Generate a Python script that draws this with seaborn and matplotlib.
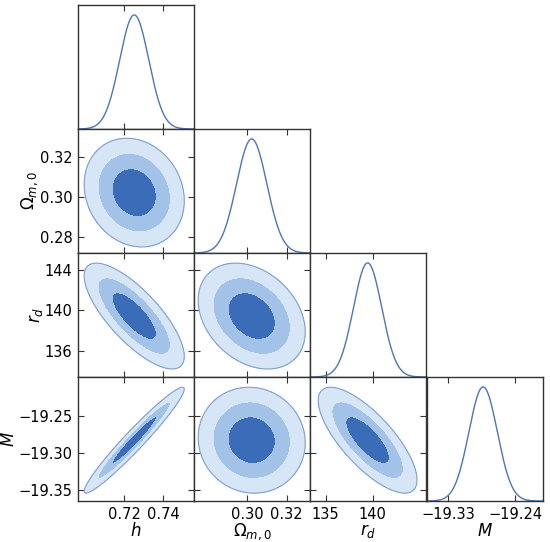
import numpy as np
import matplotlib
matplotlib.use("Agg")
import matplotlib.pyplot as plt
import seaborn as sns

# ---- data ----
param_labels = [r"$h$", r"$\Omega_{m,0}$", r"$r_d$", r"$M$"]
means = [0.7252, 0.3022, 139.45, -19.283]
sd_2d = [0.0074, 0.0079, 1.52, 0.0207]      # widths of 2D contours
sd_1d = [0.0074, 0.0077, 1.50, 0.0190]      # widths of 1D marginals
corr = [
    [1.00, -0.15, -0.76, 0.965],
    [-0.15, 1.00, -0.30, -0.05],
    [-0.76, -0.30, 1.00, -0.75],
    [0.965, -0.05, -0.75, 1.00],
]
conf_levels = [0.6827, 0.9545, 0.9973]

x_ticks = [[0.72, 0.74], [0.30, 0.32], [135, 140], [-19.33, -19.24]]
x_ticklabels = [["0.72", "0.74"], ["0.30", "0.32"], ["135", "140"], ["\u221219.33", "\u221219.24"]]
y_ticks = [None, [0.28, 0.30, 0.32], [136, 140, 144], [-19.35, -19.30, -19.25]]
y_ticklabels = [None, ["0.28", "0.30", "0.32"], ["136", "140", "144"],
                ["\u221219.35", "\u221219.30", "\u221219.25"]]

# ---- layout / style ----
x_lims = [(0.6966, 0.7556), (0.2729, 0.3318), (133.35, 145.63), (-19.358, -19.203)]
y_lims = [None, (0.272, 0.334), (133.43, 145.68), (-19.3648, -19.198)]

sns.set_style("ticks")
plt.rcParams["font.family"] = ["DejaVu Sans"]
plt.rcParams["xtick.direction"] = "in"
plt.rcParams["ytick.direction"] = "in"
plt.rcParams["mathtext.fontset"] = "dejavusans"
plt.rcParams["text.color"] = "black"
plt.rcParams["axes.labelcolor"] = "black"
plt.rcParams["xtick.labelcolor"] = "black"
plt.rcParams["ytick.labelcolor"] = "black"

fill_colors = ["#3a6cb7", "#a2c2e8", "#d6e6f7"]  # inner -> outer
edge_color = "#7f9fd0"
line_color = "#4f74b8"
spine_color = "#333333"

W, H = 550, 542
fig = plt.figure(figsize=(W / 100, H / 100), dpi=100)

col_left = [78, 194, 310, 427]
row_top = [5, 129, 253, 377]
pw, ph = 116, 124

n = 4
for r in range(n):
    for c in range(r + 1):
        rect = [col_left[c] / W, 1 - (row_top[r] + ph) / H, pw / W, ph / H]
        ax = fig.add_axes(rect)
        for s in ax.spines.values():
            s.set_color(spine_color)
            s.set_linewidth(1.0)
        ax.set_xlim(*x_lims[c])
        ax.set_xticks(x_ticks[c])
        if r == n - 1:
            ax.set_xticklabels(x_ticklabels[c], fontsize=10.5)
            ax.set_xlabel(param_labels[c], fontsize=12, labelpad=0)
        else:
            ax.set_xticklabels([])
        ax.tick_params(axis="both", length=4, width=0.8, color=spine_color, pad=4,
                       labelcolor="black")

        if r == c:
            g = np.linspace(x_lims[c][0], x_lims[c][1], 400)
            pdf = np.exp(-0.5 * ((g - means[c]) / sd_1d[c]) ** 2)
            sns.lineplot(x=g, y=pdf, ax=ax, color=line_color, lw=1.0)
            ax.set_ylim(0, 1.087)
            ax.set_yticks([])
            ax.tick_params(axis="x", top=True, bottom=True)
        else:
            ax.set_ylim(*y_lims[r])
            ax.set_yticks(y_ticks[r])
            if c == 0:
                ax.set_yticklabels(y_ticklabels[r], fontsize=10.5)
                ax.set_ylabel(param_labels[r], fontsize=12, labelpad=0)
            else:
                ax.set_yticklabels([])
            ax.tick_params(axis="both", top=True, right=True)
            gx = np.linspace(x_lims[c][0], x_lims[c][1], 300)
            gy = np.linspace(y_lims[r][0], y_lims[r][1], 300)
            X, Y = np.meshgrid(gx, gy)
            u = (X - means[c]) / sd_2d[c]
            v = (Y - means[r]) / sd_2d[r]
            rho = corr[r][c]
            d2 = (u ** 2 - 2 * rho * u * v + v ** 2) / (1 - rho ** 2)
            lv = [0] + [-2 * np.log(1 - p) for p in conf_levels]
            ax.contourf(X, Y, d2, levels=lv, colors=fill_colors)
            ax.contour(X, Y, d2, levels=[lv[-1]], colors=[edge_color], linewidths=0.8)
        ax.set_xlim(*x_lims[c])

fig.savefig("out.png", dpi=100)
